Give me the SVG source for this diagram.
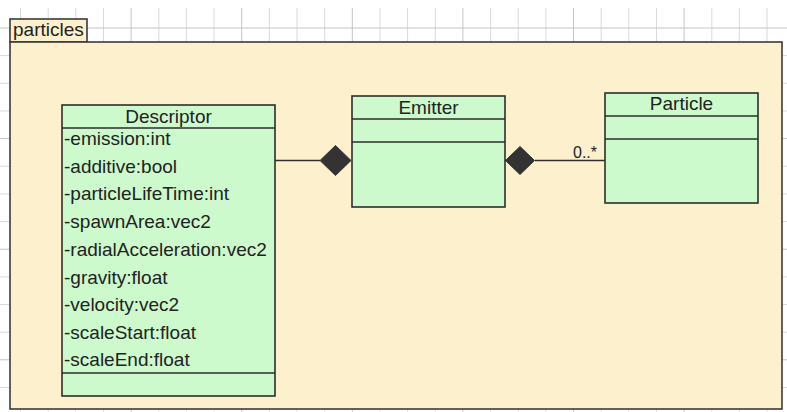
<svg xmlns="http://www.w3.org/2000/svg" width="787" height="412" viewBox="0 0 787 412">
  <style>
    .grid { stroke: #dadada; stroke-width: 1; fill: none; }
    .gridmaj { stroke: #c4c4c4; stroke-width: 1; fill: none; }
    .pkg { fill: #fdf0cc; stroke: #3a3a3a; stroke-width: 1.6; }
    .cls { fill: #ccfacc; stroke: #2e2e2e; stroke-width: 1.6; }
    .sep { stroke: #2e2e2e; stroke-width: 1.6; fill: none; }
    .t { font-family: "Liberation Sans", Arial, sans-serif; font-size: 19px; fill: #222; }
    .c { text-anchor: middle; }
    .edge { stroke: #2e2e2e; stroke-width: 1.6; fill: none; }
    .dia { fill: #333; stroke: #333; stroke-width: 1; }
  </style>
  <rect x="0" y="0" width="787" height="412" fill="#ffffff"/>
  <g id="grid">
    <path class="grid" d="M20.5 8V412M48.2 8V412M75.8 8V412M103.5 8V412M158.8 8V412M186.4 8V412M214 8V412M269.4 8V412M297 8V412M324.7 8V412M380 8V412M407.6 8V412M435.3 8V412M490.6 8V412M518.2 8V412M545.9 8V412M601.2 8V412M628.8 8V412M656.5 8V412M711.8 8V412M739.4 8V412M767 8V412M0 55.6H787M0 83.3H787M0 111H787M0 166.3H787M0 193.9H787M0 221.6H787M0 276.9H787M0 304.5H787M0 332.2H787M0 387.5H787"/>
    <path class="gridmaj" d="M131.1 8V412M241.7 8V412M352.3 8V412M462.9 8V412M573.5 8V412M684.1 8V412M0 28H787M0 138.6H787M0 249.2H787M0 359.8H787"/>
  </g>
  <g id="package-particles">
    <rect class="pkg" x="10" y="19" width="77" height="23"/>
    <rect class="pkg" x="10" y="42" width="772" height="367"/>
    <text class="t" x="13" y="36">particles</text>
  </g>
  <g id="connectors">
    <path class="edge" d="M271 160.5H320"/>
    <polygon class="dia" points="320,160.5 335.5,145.5 351,160.5 335.5,175.5"/>
    <path class="edge" d="M535 160.5H605"/>
    <polygon class="dia" points="505.5,160.5 520,146.5 534.5,160.5 520,174.5"/>
    <text class="t" x="573" y="158" style="font-size:16px">0..*</text>
  </g>
  <g id="Descriptor">
    <rect class="cls" x="62" y="105" width="213" height="291"/>
    <path class="sep" d="M62 128H275M62 373H275"/>
    <text class="t c" x="168.5" y="123">Descriptor</text>
    <text class="t" x="64" y="145">-emission:int</text>
    <text class="t" x="64" y="172.5">-additive:bool</text>
    <text class="t" x="64" y="200">-particleLifeTime:int</text>
    <text class="t" x="64" y="228">-spawnArea:vec2</text>
    <text class="t" x="64" y="255.5">-radialAcceleration:vec2</text>
    <text class="t" x="64" y="283.5">-gravity:float</text>
    <text class="t" x="64" y="311">-velocity:vec2</text>
    <text class="t" x="64" y="338.5">-scaleStart:float</text>
    <text class="t" x="64" y="366">-scaleEnd:float</text>
  </g>
  <g id="Emitter">
    <rect class="cls" x="352" y="96" width="153" height="111"/>
    <path class="sep" d="M352 119H505M352 142H505"/>
    <text class="t c" x="428.5" y="114">Emitter</text>
  </g>
  <g id="Particle">
    <rect class="cls" x="605" y="93" width="153" height="110"/>
    <path class="sep" d="M605 116H758M605 139H758"/>
    <text class="t c" x="681.5" y="110">Particle</text>
  </g>
</svg>
